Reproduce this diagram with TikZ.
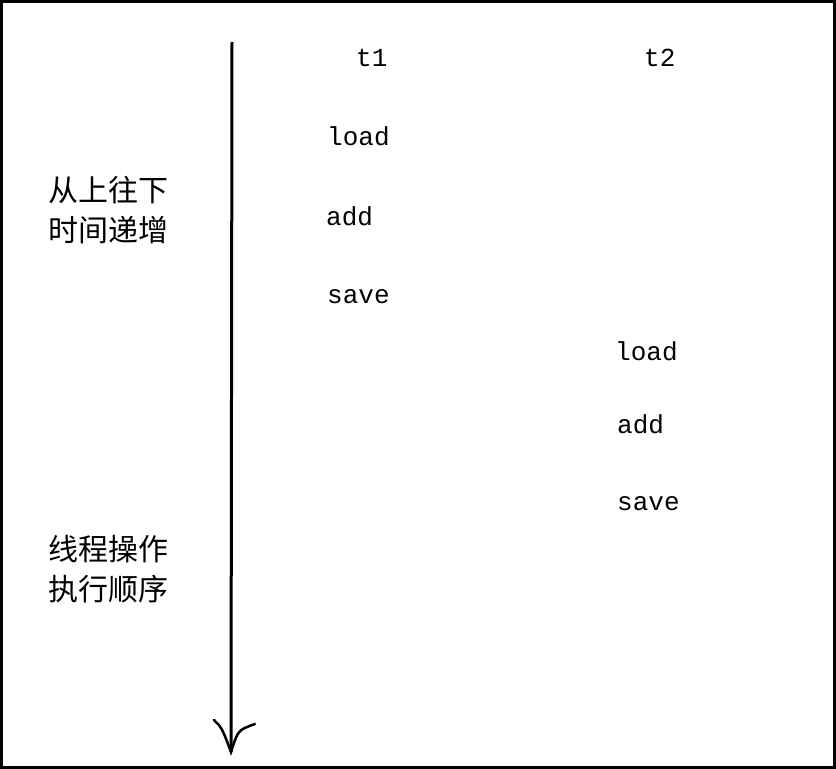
\documentclass[tikz,border=0pt]{standalone}
\usepackage{fontspec}
\setmonofont{Liberation Mono}
\newfontfamily\cjk{Noto Sans CJK SC}
\begin{document}
\begin{tikzpicture}[x=1pt,y=-1pt,
  lbl/.style={font=\ttfamily\fontsize{26}{30}\selectfont,inner sep=0pt,anchor=west},
  zh/.style={font=\cjk\fontsize{30}{40}\selectfont,inner sep=0pt,anchor=west,align=left}]
\useasboundingbox (0,0) rectangle (836,769);
\draw[line width=3pt] (1.5,1.5) rectangle (834.5,767.5);
\coordinate (top) at (232,42);
\coordinate (tip) at (231,752);
\coordinate (hl) at (214,720);
\coordinate (hr) at (255,724);
\draw[line width=3pt] (top) -- (tip);
\draw[line width=2.5pt,line cap=round] (hl) .. controls (222,728) .. (tip) .. controls (238,730) .. (hr);
\node[lbl] (t1) at (356,58) {t1};
\node[lbl] (t2) at (644,58) {t2};
\node[lbl] (l1) at (327,136) {load};
\node[lbl] (a1) at (326,216) {add};
\node[lbl] (s1) at (327,297) {save};
\node[lbl] (l2) at (615,351) {load};
\node[lbl] (a2) at (617,424) {add};
\node[lbl] (s2) at (617,504) {save};
\node[zh] (z1) at (48,210) {从上往下\\时间递增};
\node[zh] (z2) at (48,569) {线程操作\\执行顺序};
\end{tikzpicture}
\end{document}
